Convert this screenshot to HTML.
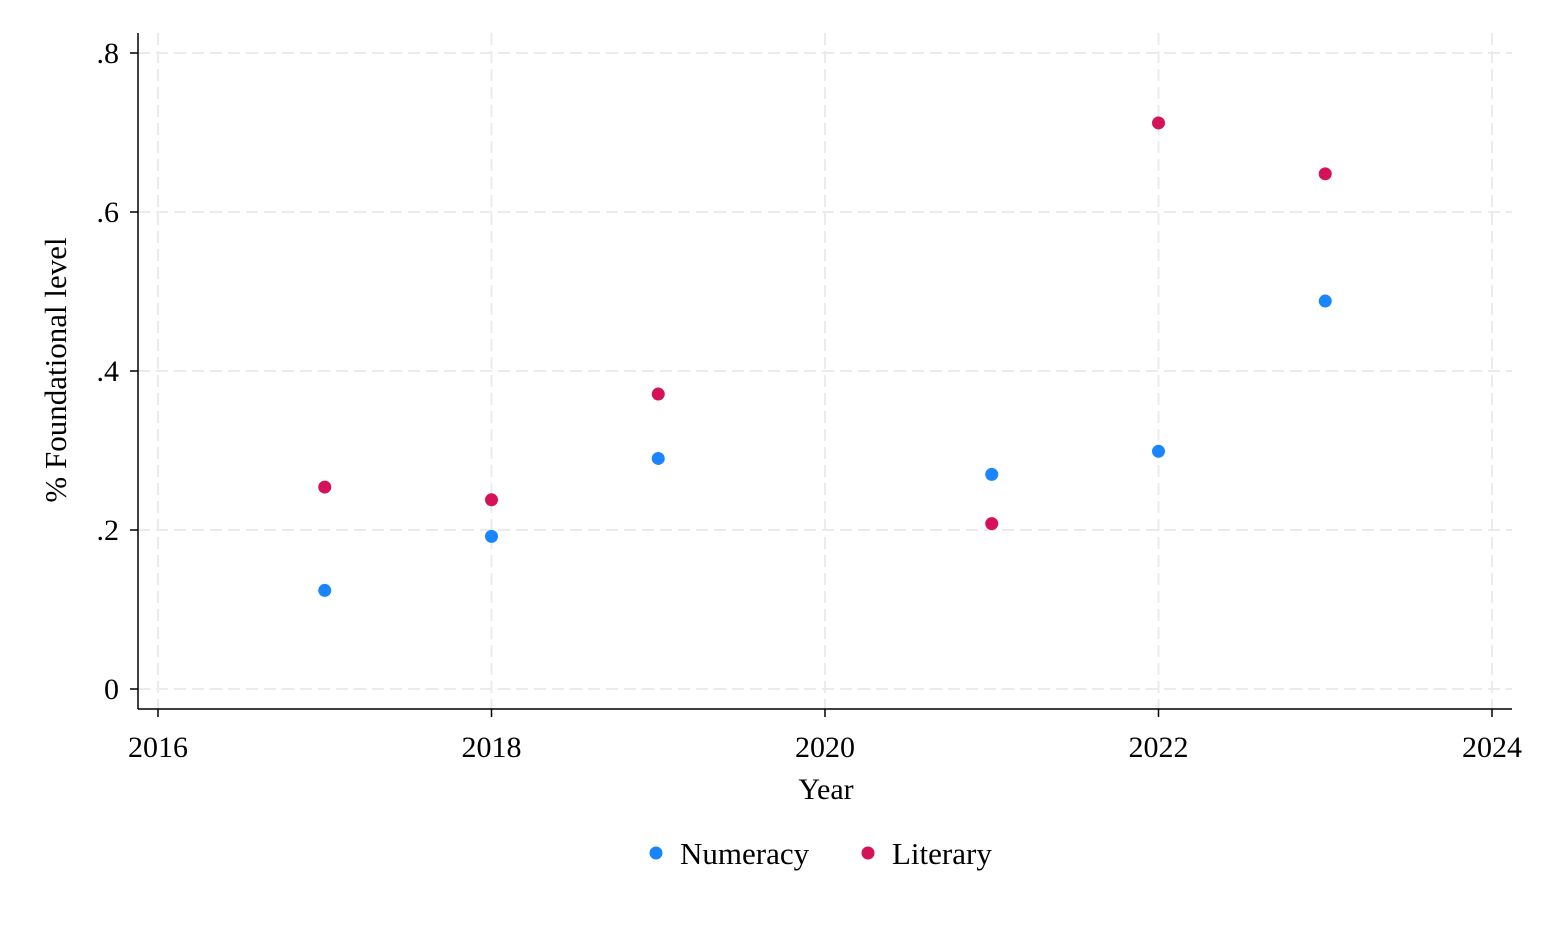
<!DOCTYPE html>
<html><head><meta charset="utf-8"><style>
html,body{margin:0;padding:0;background:#fff}
svg{display:block;font-family:"Liberation Serif",serif}
</style></head><body>
<svg width="1546" height="927" id="chart">
<rect width="1546" height="927" fill="#fff"/>
<g id="grid"></g>
<g id="axes"></g>
<g id="marks"></g>
<text x="826" y="799" font-size="30" text-anchor="middle">Year</text>
<text transform="translate(66,370) rotate(-90)" font-size="31" text-anchor="middle">% Foundational level</text>
<g>
<g><circle cx="656" cy="853" r="6.5" fill="#1a85ff"/><text x="680" y="864" font-size="31">Numeracy</text></g>
<g><circle cx="868" cy="853" r="6.5" fill="#d41159"/><text x="892" y="864" font-size="31">Literary</text></g>
</g>
</svg>
<script>
const years=[2017,2018,2019,2021,2022,2023];
const numeracy=[0.124,0.192,0.290,0.270,0.299,0.488];
const literary=[0.254,0.238,0.371,0.208,0.712,0.648];
const xTicks=[2016,2018,2020,2022,2024];
const yTicks=[0,0.2,0.4,0.6,0.8];
const yTickLabels=["0",".2",".4",".6",".8"];
const NS="http://www.w3.org/2000/svg";
function X(v){return 158+(v-2016)*(1492-158)/8;}
function Y(v){return 689-v*(689-53)/0.8;}
function mk(tag,attrs,parent){const e=document.createElementNS(NS,tag);for(const k in attrs)e.setAttribute(k,attrs[k]);parent.appendChild(e);return e;}
const grid=document.getElementById('grid'),axes=document.getElementById('axes'),marks=document.getElementById('marks');
yTicks.forEach((t,i)=>{
 const g=mk('line',{x1:138,x2:1512,y1:Y(t),y2:Y(t),stroke:'#ebebeb','stroke-width':2,'stroke-dasharray':'12,6'},grid);
 
 
 const tk=mk('line',{x1:130,x2:138,y1:Y(t),y2:Y(t),stroke:'#000','stroke-width':1.5},axes);
 
 
 const tx=mk('text',{x:119,y:Y(t)+10,'font-size':30,'text-anchor':'end'},axes);
 tx.textContent=yTickLabels[i];
 
 
});
xTicks.forEach(t=>{
 const g=mk('line',{x1:X(t),x2:X(t),y1:33,y2:709,stroke:'#ebebeb','stroke-width':2,'stroke-dasharray':'12,6'},grid);
 
 
 const tk=mk('line',{x1:X(t),x2:X(t),y1:709,y2:717,stroke:'#000','stroke-width':1.5},axes);
 
 
 const tx=mk('text',{x:X(t),y:757,'font-size':30,'text-anchor':'middle'},axes);
 tx.textContent=String(t);
 
 
});
const ya=mk('line',{x1:138,x2:138,y1:33,y2:709,stroke:'#000','stroke-width':1.5},axes);


const xa=mk('line',{x1:138,x2:1512,y1:709,y2:709,stroke:'#000','stroke-width':1.5},axes);


years.forEach((yr,i)=>{
 const a=mk('circle',{cx:X(yr),cy:Y(numeracy[i]),r:6.5,fill:'#1a85ff'},marks);
 
 
 const b=mk('circle',{cx:X(yr),cy:Y(literary[i]),r:6.5,fill:'#d41159'},marks);
 
 
});
</script>
</body></html>
